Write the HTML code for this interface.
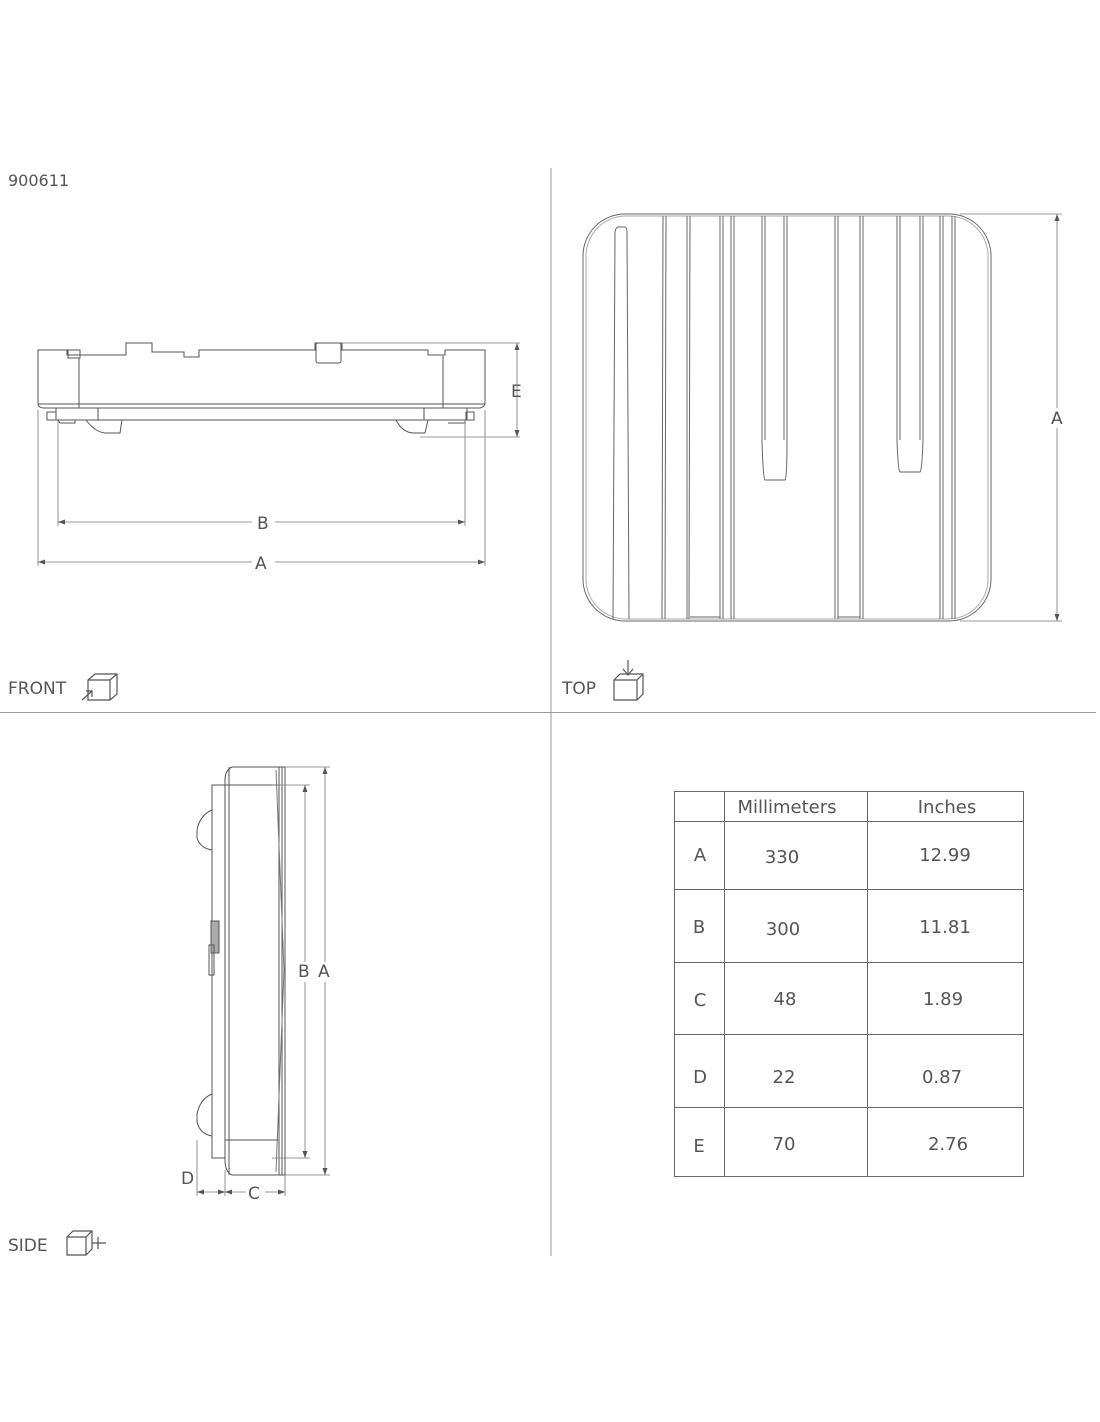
<!DOCTYPE html>
<html><head><meta charset="utf-8"><style>
body{margin:0;background:#fff;}
svg{display:block;font-family:"DejaVu Sans","Liberation Sans",sans-serif;}
text{fill:#555;}
</style></head><body>
<svg width="1100" height="1422" viewBox="0 0 1100 1422" xmlns="http://www.w3.org/2000/svg">
<g stroke="#999" stroke-width="1" fill="none">
<line x1="551" y1="168" x2="551" y2="1256"/>
<line x1="0" y1="712.5" x2="1096" y2="712.5"/>
</g>
<text x="8" y="186" font-size="16">900611</text>

<!-- FRONT -->
<g stroke="#555" stroke-width="1" fill="none">
<path d="M38 350 H67 V355 H126 V343 H152 V352 H184 V357 H199 V350 H315 V343 H342 V350 H428 V355 H445 V350 H485 V404 Q484 407 480 408 H43 Q38 407 38 404 Z"/>
<line x1="38" y1="404" x2="485" y2="404"/>
<rect x="316" y="343" width="25" height="20" rx="2"/>
<rect x="68" y="350" width="12" height="8"/>
<line x1="79" y1="358" x2="79" y2="408"/>
<line x1="443" y1="356" x2="443" y2="408"/>
<rect x="56" y="408" width="411" height="12"/>
<line x1="98" y1="408" x2="98" y2="420"/>
<line x1="424" y1="408" x2="424" y2="420"/>
<path d="M86 420 Q95 432 105 433 H120 L122 420"/>
<path d="M396 420 Q402 432 413 433 H425 L428 420"/>
<rect x="47" y="412" width="9" height="8"/>
<rect x="466" y="412" width="8" height="8"/>
<path d="M58 420 H75 V423 H60Z M448 423 H465 V420"/>
</g>
<g stroke="#777" stroke-width="0.8" fill="none">
<line x1="342" y1="343" x2="520" y2="343"/>
<line x1="420" y1="437" x2="520" y2="437"/>
<line x1="517" y1="343" x2="517" y2="437"/>
<line x1="58" y1="420" x2="58" y2="526"/>
<line x1="465" y1="420" x2="465" y2="526"/>
<line x1="38" y1="410" x2="38" y2="566"/>
<line x1="485" y1="410" x2="485" y2="566"/>
<line x1="58" y1="522" x2="252" y2="522"/><line x1="275" y1="522" x2="465" y2="522"/>
<line x1="38" y1="562" x2="252" y2="562"/><line x1="275" y1="562" x2="485" y2="562"/>
</g>
<g fill="#555">
<path d="M517 343 l-2.5 7 h5z M517 437 l-2.5 -7 h5z M58 522 l7 -2.5 v5z M465 522 l-7 -2.5 v5z M38 562 l7 -2.5 v5z M485 562 l-7 -2.5 v5z"/>
</g>
<text x="511" y="397" font-size="17">E</text>
<text x="257" y="529" font-size="17">B</text>
<text x="255" y="569" font-size="17">A</text>
<text x="8" y="694" font-size="17">FRONT</text>
<g stroke="#555" stroke-width="1.2" fill="none">
<path d="M88 680 L95 674 H117 V694 L110 700 H88 Z M88 680 H110 V700 M110 680 L117 674"/>
<path d="M82 700 L92 691 M86 691 H92 V697"/>
</g>

<!-- TOP -->
<g stroke="#666" stroke-width="1" fill="none">
<rect x="583" y="214" width="408" height="407" rx="42"/>
<rect x="586" y="216" width="402" height="403" rx="40" stroke="#aaa"/>
<path d="M613 619 L615 232 Q616 226 620 227 H625 Q627 227 627 233 L629 619"/>
<line x1="663" y1="216" x2="662" y2="619"/><line x1="666" y1="216" x2="665" y2="619"/>
<line x1="687" y1="216" x2="687" y2="619"/><line x1="690" y1="216" x2="689" y2="619"/>
<line x1="720" y1="216" x2="720" y2="619"/><line x1="723" y1="216" x2="723" y2="619"/>
<line x1="731" y1="216" x2="731" y2="619"/><line x1="734" y1="216" x2="734" y2="619"/>
<path d="M762 216 V440 Q763 478 765 480 H785 Q787 478 787 440 V216"/>
<line x1="765" y1="216" x2="765" y2="440"/><line x1="784" y1="216" x2="784" y2="440"/>
<line x1="835" y1="216" x2="835" y2="619"/><line x1="838" y1="216" x2="838" y2="619"/>
<line x1="860" y1="216" x2="860" y2="619"/><line x1="863" y1="216" x2="863" y2="619"/>
<path d="M897 216 V440 Q898 470 900 472 H920 Q922 470 923 440 V216"/>
<line x1="900" y1="216" x2="900" y2="440"/><line x1="920" y1="216" x2="920" y2="440"/>
<line x1="940" y1="216" x2="940" y2="619"/><line x1="943" y1="216" x2="943" y2="619"/>
<line x1="952" y1="216" x2="952" y2="619"/><line x1="955" y1="216" x2="955" y2="619"/>
<line x1="690" y1="617" x2="720" y2="617"/><line x1="838" y1="617" x2="860" y2="617"/>
</g>
<g stroke="#777" stroke-width="0.8" fill="none">
<line x1="960" y1="214" x2="1062" y2="214"/>
<line x1="960" y1="621" x2="1062" y2="621"/>
<line x1="1057" y1="214" x2="1057" y2="408"/><line x1="1057" y1="428" x2="1057" y2="621"/>
</g>
<path d="M1057 214 l-2.5 7 h5z M1057 621 l-2.5 -7 h5z" fill="#555"/>
<text x="1051" y="424" font-size="17">A</text>
<text x="562" y="694" font-size="17">TOP</text>
<g stroke="#555" stroke-width="1.2" fill="none">
<path d="M614 680 L620 674 H643 V694 L637 700 H614 Z M614 680 H637 V700 M637 680 L643 674"/>
<path d="M628 660 V675 M623 669 L628 675 L633 669"/>
</g>

<!-- SIDE -->
<g stroke="#555" stroke-width="1" fill="none">
<path d="M232 767 H285 V1175 H232 Q225 1172 225 1160 V780 Q225 770 232 767 Z"/>
<line x1="229" y1="767" x2="229" y2="1175"/>
<line x1="279" y1="767" x2="279" y2="1175"/>
<line x1="282" y1="767" x2="282" y2="1175"/>
<line x1="276" y1="770" x2="284" y2="970" stroke="#777"/><line x1="284" y1="970" x2="276" y2="1172" stroke="#777"/>
<line x1="225" y1="785" x2="278" y2="785"/>
<line x1="225" y1="1140" x2="278" y2="1140"/>
<rect x="212" y="785" width="13" height="373"/>
<path d="M212 810 Q200 815 197 830 V838 Q200 848 212 850"/>
<path d="M212 1094 Q200 1099 197 1114 V1122 Q200 1134 212 1136"/>
<rect x="211" y="921" width="8" height="32" fill="#aaa"/>
<rect x="209" y="945" width="5" height="30"/>
</g>
<g stroke="#777" stroke-width="0.8" fill="none">
<line x1="285" y1="767" x2="330" y2="767"/>
<line x1="285" y1="1175" x2="330" y2="1175"/>
<line x1="272" y1="785" x2="310" y2="785"/>
<line x1="272" y1="1158" x2="310" y2="1158"/>
<line x1="325" y1="767" x2="325" y2="962"/><line x1="325" y1="982" x2="325" y2="1175"/>
<line x1="305" y1="785" x2="305" y2="962"/><line x1="305" y1="982" x2="305" y2="1158"/>
<line x1="197" y1="1140" x2="197" y2="1196"/>
<line x1="225" y1="1170" x2="225" y2="1196"/>
<line x1="285" y1="1175" x2="285" y2="1196"/>
<line x1="197" y1="1192" x2="225" y2="1192"/>
<line x1="225" y1="1192" x2="246" y2="1192"/><line x1="265" y1="1192" x2="285" y2="1192"/>
</g>
<path d="M325 767 l-2.5 7 h5z M325 1175 l-2.5 -7 h5z M305 785 l-2.5 7 h5z M305 1158 l-2.5 -7 h5z M225 1192 l-7 -2.5 v5z M225 1192 l7 -2.5 v5z M197 1192 l7 -2.5 v5z M285 1192 l-7 -2.5 v5z" fill="#555"/>
<text x="298" y="977" font-size="17">B</text>
<text x="318" y="977" font-size="17">A</text>
<text x="181" y="1184" font-size="17">D</text>
<text x="248" y="1199" font-size="17">C</text>
<text x="8" y="1251" font-size="17">SIDE</text>
<g stroke="#555" stroke-width="1.2" fill="none">
<path d="M67 1237 L73 1231 H92 V1249 L86 1255 H67 Z M67 1237 H86 V1255 M86 1237 L92 1231"/>
<path d="M92 1243 H106 M98 1237 V1249"/>
</g>

<!-- TABLE -->
<g stroke="#666" stroke-width="1" fill="none">
<rect x="674.5" y="791.5" width="349" height="385"/>
<line x1="724.5" y1="791" x2="724.5" y2="1177"/>
<line x1="867.5" y1="791" x2="867.5" y2="1177"/>
<line x1="674" y1="821.5" x2="1024" y2="821.5"/>
<line x1="674" y1="889.5" x2="1024" y2="889.5"/>
<line x1="674" y1="962.5" x2="1024" y2="962.5"/>
<line x1="674" y1="1034.5" x2="1024" y2="1034.5"/>
<line x1="674" y1="1107.5" x2="1024" y2="1107.5"/>
</g>
<g font-size="18" text-anchor="middle">
<text x="787" y="813">Millimeters</text><text x="947" y="813">Inches</text>
<text x="700" y="861">A</text><text x="782" y="863">330</text><text x="945" y="861">12.99</text>
<text x="699" y="933">B</text><text x="783" y="935">300</text><text x="945" y="933">11.81</text>
<text x="700" y="1006">C</text><text x="785" y="1005">48</text><text x="943" y="1005">1.89</text>
<text x="700" y="1083">D</text><text x="784" y="1083">22</text><text x="942" y="1083">0.87</text>
<text x="699" y="1152">E</text><text x="784" y="1150">70</text><text x="948" y="1150">2.76</text>
</g>
</svg>
</body></html>
